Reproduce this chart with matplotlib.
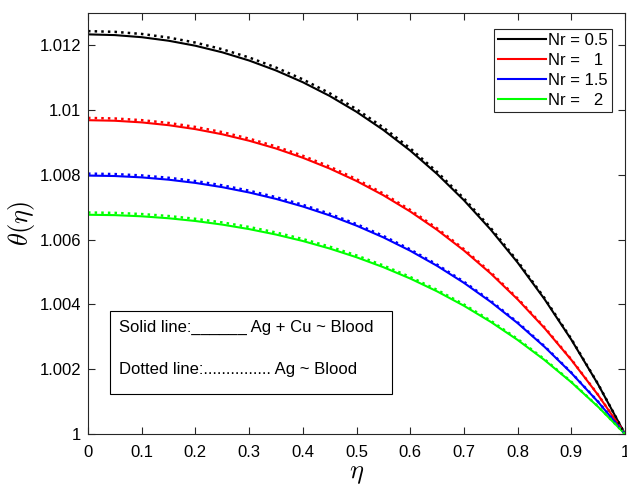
import numpy as np
import matplotlib
matplotlib.use('Agg')
import matplotlib.pyplot as plt
from matplotlib.patches import Rectangle

plt.rcParams['font.family'] = ['Liberation Sans', 'DejaVu Sans']
plt.rcParams['mathtext.fontset'] = 'cm'

eta = [0.00, 0.05, 0.10, 0.15, 0.20, 0.25, 0.30, 0.35, 0.40, 0.45, 0.50,
       0.55, 0.60, 0.65, 0.70, 0.75, 0.80, 0.85, 0.90, 0.95, 1.00]

# Ag + Cu ~ Blood (solid)
theta_hyb_05 = [1.012340, 1.012318, 1.012253, 1.012144, 1.011989, 1.011786, 1.011533,
                1.011226, 1.010863, 1.010439, 1.009949, 1.009388, 1.008751, 1.008030,
                1.007219, 1.006310, 1.005295, 1.004167, 1.002914, 1.001529, 1.000000]
theta_hyb_1 = [1.009690, 1.009673, 1.009622, 1.009536, 1.009414, 1.009255, 1.009056,
               1.008816, 1.008530, 1.008197, 1.007813, 1.007372, 1.006871, 1.006305,
               1.005668, 1.004955, 1.004158, 1.003272, 1.002289, 1.001201, 1.000000]
theta_hyb_15 = [1.007980, 1.007966, 1.007924, 1.007853, 1.007753, 1.007622, 1.007458,
                1.007260, 1.007025, 1.006751, 1.006434, 1.006071, 1.005659, 1.005193,
                1.004668, 1.004080, 1.003424, 1.002694, 1.001885, 1.000989, 1.000000]
theta_hyb_2 = [1.006770, 1.006758, 1.006722, 1.006662, 1.006577, 1.006466, 1.006327,
               1.006159, 1.005960, 1.005727, 1.005458, 1.005151, 1.004801, 1.004405,
               1.003960, 1.003462, 1.002905, 1.002286, 1.001599, 1.000839, 1.000000]

# Ag ~ Blood (dotted)
theta_ag_05 = [1.012440, 1.012418, 1.012353, 1.012242, 1.012086, 1.011881, 1.011626,
               1.011317, 1.010951, 1.010524, 1.010030, 1.009464, 1.008821, 1.008095,
               1.007277, 1.006361, 1.005338, 1.004200, 1.002938, 1.001541, 1.000000]
theta_ag_1 = [1.009760, 1.009743, 1.009691, 1.009605, 1.009482, 1.009322, 1.009121,
              1.008879, 1.008592, 1.008257, 1.007869, 1.007425, 1.006921, 1.006351,
              1.005709, 1.004991, 1.004188, 1.003296, 1.002305, 1.001209, 1.000000]
theta_ag_15 = [1.008040, 1.008026, 1.007984, 1.007912, 1.007811, 1.007679, 1.007514,
               1.007314, 1.007078, 1.006801, 1.006482, 1.006117, 1.005701, 1.005232,
               1.004703, 1.004111, 1.003450, 1.002715, 1.001899, 1.000996, 1.000000]
theta_ag_2 = [1.006840, 1.006828, 1.006792, 1.006731, 1.006645, 1.006533, 1.006393,
              1.006223, 1.006021, 1.005786, 1.005515, 1.005204, 1.004850, 1.004451,
              1.004001, 1.003498, 1.002935, 1.002310, 1.001615, 1.000848, 1.000000]

labels = ['Nr = 0.5', 'Nr =   1', 'Nr = 1.5', 'Nr =   2']
colors = ['k', (1, 0, 0), (0, 0, 1), (0, 1, 0)]
solid = [theta_hyb_05, theta_hyb_1, theta_hyb_15, theta_hyb_2]
dotted = [theta_ag_05, theta_ag_1, theta_ag_15, theta_ag_2]

fig = plt.figure(figsize=(6.27, 4.88), dpi=100)
ax = fig.add_axes([88/627, 1 - 434/488, 537/627, 421/488])

for s, c, lab in zip(solid, colors, labels):
    ax.plot(eta, s, '-', color=c, lw=1.5, label=lab)
for d, c in zip(dotted, colors):
    ax.plot(eta, d, ':', color=c, lw=1.8)

ax.set_xlim(0, 1)
ax.set_ylim(1, 1.013)
xt = np.arange(0, 1.01, 0.1)
ax.set_xticks(xt)
ax.set_xticklabels(['0'] + [f'{v:.1f}' for v in xt[1:-1]] + ['1'])
yt = [1, 1.002, 1.004, 1.006, 1.008, 1.01, 1.012]
ax.set_yticks(yt)
ax.set_yticklabels(['1', '1.002', '1.004', '1.006', '1.008', '1.01', '1.012'])
ax.tick_params(direction='in', top=True, right=True, length=5, width=0.8,
               labelsize=12, colors='0.15', labelcolor='k', pad=5)
ax.tick_params(axis='x', pad=8)
for sp in ax.spines.values():
    sp.set_color('0.15')
    sp.set_linewidth(0.8)

ax.set_xlabel(r'$\eta$', fontsize=19, labelpad=1)
ax.set_ylabel(r'$\theta(\eta)$', fontsize=19, labelpad=2)

leg = ax.legend(loc='upper right', bbox_to_anchor=(0.9758, 0.962), borderaxespad=0,
                fontsize=12, handlelength=2.85, handletextpad=0.15, labelspacing=0.29,
                fancybox=False, framealpha=1, edgecolor='0.15', borderpad=0.25)
leg.get_frame().set_linewidth(0.8)

ax.add_patch(Rectangle((0.041, 0.095), 0.525, 0.197, transform=ax.transAxes,
                       fill=False, edgecolor='k', lw=0.8, zorder=5))
ax.text(0.0577, 0.254, 'Solid line:______ Ag + Cu ~ Blood', transform=ax.transAxes,
        fontsize=12, va='center', ha='left')
ax.text(0.0577, 0.154, 'Dotted line:............... Ag ~ Blood', transform=ax.transAxes,
        fontsize=12, va='center', ha='left')

fig.savefig('out.png', dpi=100)
